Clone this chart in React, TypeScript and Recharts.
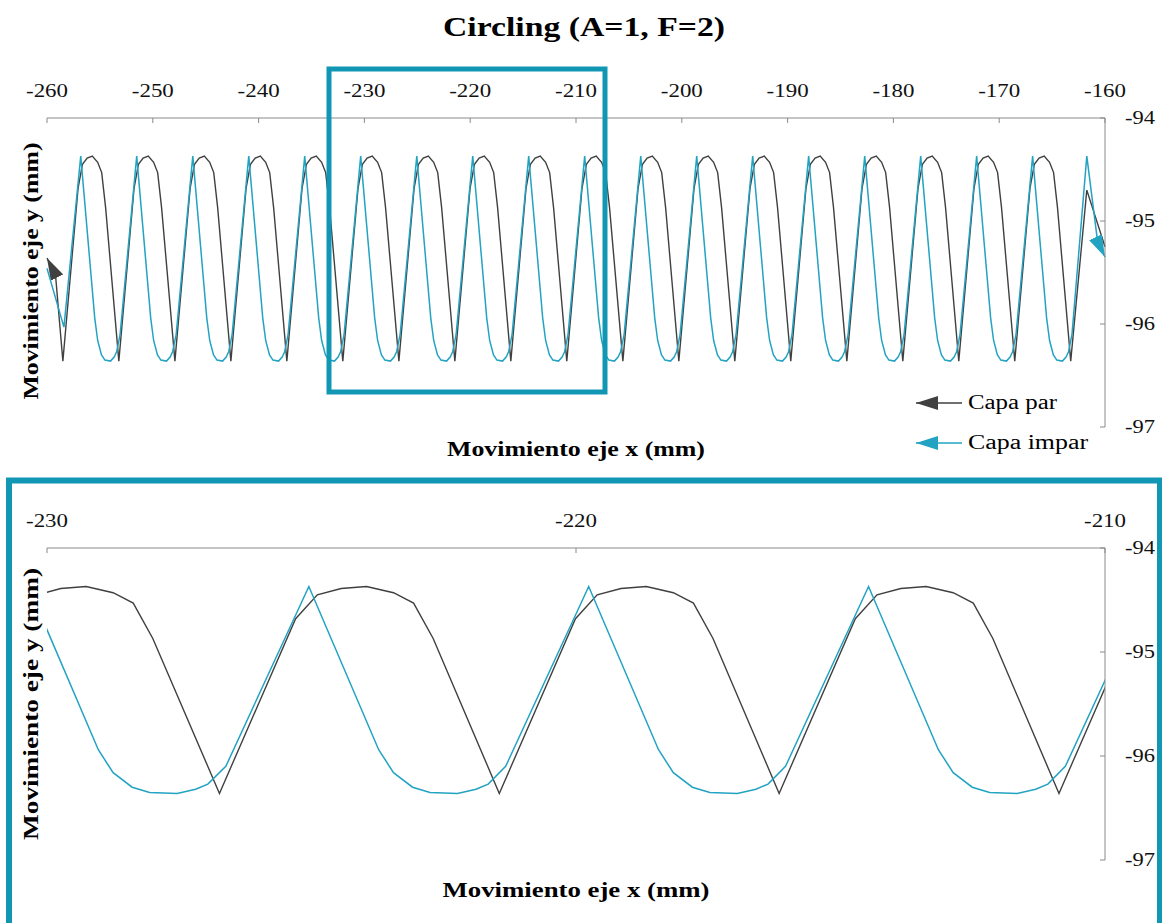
import React from 'react';
import { LineChart, Line, XAxis, YAxis } from 'recharts';

const topTicks = [-260, -250, -240, -230, -220, -210, -200, -190, -180, -170, -160];
const zoomTicks = [-230, -220, -210];
const yTicks = [-97, -96, -95, -94];

// Capa par, read left to right (x, y in mm)
const capaPar: [number, number][] = [
  [-260.0, -95.36], [-259.2, -95.52],
  [-258.5, -96.36], [-257.06, -94.68], [-256.65, -94.45], [-256.2, -94.39], [-255.72, -94.37], [-255.21, -94.43], [-254.83, -94.53], [-254.46, -94.87],
  [-253.21, -96.36], [-251.77, -94.68], [-251.36, -94.45], [-250.91, -94.39], [-250.43, -94.37], [-249.92, -94.43], [-249.54, -94.53], [-249.17, -94.87],
  [-247.91, -96.36], [-246.47, -94.68], [-246.06, -94.45], [-245.61, -94.39], [-245.13, -94.37], [-244.62, -94.43], [-244.24, -94.53], [-243.87, -94.87],
  [-242.62, -96.36], [-241.18, -94.68], [-240.77, -94.45], [-240.32, -94.39], [-239.84, -94.37], [-239.33, -94.43], [-238.95, -94.53], [-238.58, -94.87],
  [-237.33, -96.36], [-235.89, -94.68], [-235.48, -94.45], [-235.03, -94.39], [-234.55, -94.37], [-234.04, -94.43], [-233.66, -94.53], [-233.29, -94.87],
  [-232.04, -96.36], [-230.6, -94.68], [-230.19, -94.45], [-229.74, -94.39], [-229.26, -94.37], [-228.75, -94.43], [-228.37, -94.53], [-228.0, -94.87],
  [-226.74, -96.36], [-225.3, -94.68], [-224.89, -94.45], [-224.44, -94.39], [-223.96, -94.37], [-223.45, -94.43], [-223.07, -94.53], [-222.7, -94.87],
  [-221.45, -96.36], [-220.01, -94.68], [-219.6, -94.45], [-219.15, -94.39], [-218.67, -94.37], [-218.16, -94.43], [-217.78, -94.53], [-217.41, -94.87],
  [-216.16, -96.36], [-214.72, -94.68], [-214.31, -94.45], [-213.86, -94.39], [-213.38, -94.37], [-212.87, -94.43], [-212.49, -94.53], [-212.12, -94.87],
  [-210.87, -96.36], [-209.43, -94.68], [-209.02, -94.45], [-208.57, -94.39], [-208.09, -94.37], [-207.58, -94.43], [-207.2, -94.53], [-206.83, -94.87],
  [-205.57, -96.36], [-204.13, -94.68], [-203.72, -94.45], [-203.27, -94.39], [-202.79, -94.37], [-202.28, -94.43], [-201.9, -94.53], [-201.53, -94.87],
  [-200.28, -96.36], [-198.84, -94.68], [-198.43, -94.45], [-197.98, -94.39], [-197.5, -94.37], [-196.99, -94.43], [-196.61, -94.53], [-196.24, -94.87],
  [-194.99, -96.36], [-193.55, -94.68], [-193.14, -94.45], [-192.69, -94.39], [-192.21, -94.37], [-191.7, -94.43], [-191.32, -94.53], [-190.95, -94.87],
  [-189.7, -96.36], [-188.26, -94.68], [-187.85, -94.45], [-187.4, -94.39], [-186.92, -94.37], [-186.41, -94.43], [-186.03, -94.53], [-185.66, -94.87],
  [-184.4, -96.36], [-182.96, -94.68], [-182.55, -94.45], [-182.1, -94.39], [-181.62, -94.37], [-181.11, -94.43], [-180.73, -94.53], [-180.36, -94.87],
  [-179.11, -96.36], [-177.67, -94.68], [-177.26, -94.45], [-176.81, -94.39], [-176.33, -94.37], [-175.82, -94.43], [-175.44, -94.53], [-175.07, -94.87],
  [-173.82, -96.36], [-172.38, -94.68], [-171.97, -94.45], [-171.52, -94.39], [-171.04, -94.37], [-170.53, -94.43], [-170.15, -94.53], [-169.78, -94.87],
  [-168.53, -96.36], [-167.09, -94.68], [-166.68, -94.45], [-166.23, -94.39], [-165.75, -94.37], [-165.24, -94.43], [-164.86, -94.53], [-164.49, -94.87],
  [-163.24, -96.36], [-161.72, -94.7], [-160.0, -95.25],
];

// Capa impar, listed left to right; the layer is travelled right to left
const capaImpar: [number, number][] = [
  [-260.0, -95.46], [-258.4, -96.03],
  [-256.81, -94.37], [-255.49, -95.94], [-255.21, -96.16], [-254.85, -96.3], [-254.52, -96.35], [-254.0, -96.36], [-253.65, -96.32], [-253.42, -96.27], [-253.09, -96.1],
  [-251.52, -94.37], [-250.2, -95.94], [-249.92, -96.16], [-249.56, -96.3], [-249.23, -96.35], [-248.71, -96.36], [-248.36, -96.32], [-248.13, -96.27], [-247.79, -96.1],
  [-246.22, -94.37], [-244.9, -95.94], [-244.62, -96.16], [-244.26, -96.3], [-243.93, -96.35], [-243.41, -96.36], [-243.06, -96.32], [-242.83, -96.27], [-242.5, -96.1],
  [-240.93, -94.37], [-239.61, -95.94], [-239.33, -96.16], [-238.97, -96.3], [-238.64, -96.35], [-238.12, -96.36], [-237.77, -96.32], [-237.54, -96.27], [-237.21, -96.1],
  [-235.64, -94.37], [-234.32, -95.94], [-234.04, -96.16], [-233.68, -96.3], [-233.35, -96.35], [-232.83, -96.36], [-232.48, -96.32], [-232.25, -96.27], [-231.92, -96.1],
  [-230.35, -94.37], [-229.03, -95.94], [-228.75, -96.16], [-228.39, -96.3], [-228.06, -96.35], [-227.54, -96.36], [-227.19, -96.32], [-226.96, -96.27], [-226.62, -96.1],
  [-225.05, -94.37], [-223.73, -95.94], [-223.45, -96.16], [-223.09, -96.3], [-222.76, -96.35], [-222.24, -96.36], [-221.89, -96.32], [-221.66, -96.27], [-221.33, -96.1],
  [-219.76, -94.37], [-218.44, -95.94], [-218.16, -96.16], [-217.8, -96.3], [-217.47, -96.35], [-216.95, -96.36], [-216.6, -96.32], [-216.37, -96.27], [-216.04, -96.1],
  [-214.47, -94.37], [-213.15, -95.94], [-212.87, -96.16], [-212.51, -96.3], [-212.18, -96.35], [-211.66, -96.36], [-211.31, -96.32], [-211.08, -96.27], [-210.75, -96.1],
  [-209.18, -94.37], [-207.86, -95.94], [-207.58, -96.16], [-207.22, -96.3], [-206.89, -96.35], [-206.37, -96.36], [-206.02, -96.32], [-205.79, -96.27], [-205.45, -96.1],
  [-203.88, -94.37], [-202.56, -95.94], [-202.28, -96.16], [-201.92, -96.3], [-201.59, -96.35], [-201.07, -96.36], [-200.72, -96.32], [-200.49, -96.27], [-200.16, -96.1],
  [-198.59, -94.37], [-197.27, -95.94], [-196.99, -96.16], [-196.63, -96.3], [-196.3, -96.35], [-195.78, -96.36], [-195.43, -96.32], [-195.2, -96.27], [-194.87, -96.1],
  [-193.3, -94.37], [-191.98, -95.94], [-191.7, -96.16], [-191.34, -96.3], [-191.01, -96.35], [-190.49, -96.36], [-190.14, -96.32], [-189.91, -96.27], [-189.58, -96.1],
  [-188.01, -94.37], [-186.69, -95.94], [-186.41, -96.16], [-186.05, -96.3], [-185.72, -96.35], [-185.2, -96.36], [-184.85, -96.32], [-184.62, -96.27], [-184.28, -96.1],
  [-182.71, -94.37], [-181.39, -95.94], [-181.11, -96.16], [-180.75, -96.3], [-180.42, -96.35], [-179.9, -96.36], [-179.55, -96.32], [-179.32, -96.27], [-178.99, -96.1],
  [-177.42, -94.37], [-176.1, -95.94], [-175.82, -96.16], [-175.46, -96.3], [-175.13, -96.35], [-174.61, -96.36], [-174.26, -96.32], [-174.03, -96.27], [-173.7, -96.1],
  [-172.13, -94.37], [-170.81, -95.94], [-170.53, -96.16], [-170.17, -96.3], [-169.84, -96.35], [-169.32, -96.36], [-168.97, -96.32], [-168.74, -96.27], [-168.41, -96.1],
  [-166.84, -94.37], [-165.52, -95.94], [-165.24, -96.16], [-164.88, -96.3], [-164.55, -96.35], [-164.03, -96.36], [-163.68, -96.32], [-163.45, -96.27], [-163.12, -96.1],
  [-161.72, -94.37], [-160.7, -95.2], [-160.0, -95.35],
];

const parData = capaPar.map(([x, y]) => ({ x, y }));
// path order matters for the start arrow
const imparData = [...capaImpar].reverse().map(([x, y]) => ({ x, y }));

const serif = "'Liberation Serif', 'Times New Roman', serif";
const GREY = '#404040';
const CYAN = '#22a3c2';
const BOX = '#1196b4';
const AXIS = '#8a8a8a';

// the original text is rendered wider than Times, so stretch it
const tickWidth = (s: string) => 6 + 12 * (s.length - 1);

const XTick = (props: any) => {
  const { x, y, payload } = props;
  const s = String(payload.value);
  return (
    <text x={x} y={y} textAnchor="middle" fontFamily={serif} fontSize={18.5} fill="#111"
      textLength={tickWidth(s)} lengthAdjust="spacingAndGlyphs">{s}</text>
  );
};

const YTick = (props: any) => {
  const { x, y, payload } = props;
  const s = String(payload.value);
  return (
    <text x={x} y={y} dy="0.35em" textAnchor="start" fontFamily={serif} fontSize={18.5} fill="#111"
      textLength={tickWidth(s)} lengthAdjust="spacingAndGlyphs">{s}</text>
  );
};

const Panel = ({ height, margin, domain, ticks, zoomed }: any) => (
  <LineChart width={1162} height={height} margin={margin}>
    <XAxis type="number" dataKey="x" domain={domain} ticks={ticks} interval={0} orientation="top"
      height={30} allowDataOverflow={zoomed} stroke={AXIS} tickSize={-5} tickMargin={26} tick={XTick} />
    <YAxis type="number" domain={[-97, -94]} ticks={yTicks} interval={0} orientation="right"
      width={57} stroke={AXIS} tickSize={-5} tickMargin={25} tick={YTick} />
    <Line data={parData} dataKey="y" stroke={GREY} strokeWidth={1.4} dot={false}
      isAnimationActive={false} markerStart={zoomed ? undefined : 'url(#arrowPar)'} />
    <Line data={imparData} dataKey="y" stroke={CYAN} strokeWidth={1.5} dot={false}
      isAnimationActive={false} markerStart={zoomed ? undefined : 'url(#arrowImpar)'} />
  </LineChart>
);

const Title = ({ x, y, w, size, bold, children, rotate }: any) => (
  <text x={rotate ? 0 : x} y={rotate ? 0 : y} transform={rotate ? `translate(${x},${y}) rotate(-90)` : undefined}
    textAnchor="middle" fontFamily={serif} fontSize={size} fontWeight={bold ? 'bold' : 'normal'} fill="#000"
    textLength={w} lengthAdjust="spacingAndGlyphs">{children}</text>
);

export default function App() {
  return (
    <div style={{ position: 'absolute', left: 0, top: 0, width: 1162, height: 923, background: '#fff', overflow: 'hidden' }}>
      <div style={{ position: 'absolute', left: 0, top: 0 }}>
        <Panel height={470} margin={{ top: 88, right: 0, bottom: 43, left: 47 }} domain={[-260, -160]} ticks={topTicks} zoomed={false} />
      </div>
      <div style={{ position: 'absolute', left: 0, top: 470 }}>
        <Panel height={453} margin={{ top: 48, right: 0, bottom: 63, left: 47 }} domain={[-230, -210]} ticks={zoomTicks} zoomed />
      </div>
      <svg width={1162} height={923} style={{ position: 'absolute', left: 0, top: 0, pointerEvents: 'none' }}>
        <defs>
          <marker id="arrowPar" markerUnits="userSpaceOnUse" markerWidth={22} markerHeight={14} refX={22} refY={7} orient="auto-start-reverse">
            <path d="M0,0 L22,7 L0,14 Z" fill={GREY} />
          </marker>
          <marker id="arrowImpar" markerUnits="userSpaceOnUse" markerWidth={22} markerHeight={14} refX={22} refY={7} orient="auto-start-reverse">
            <path d="M0,0 L22,7 L0,14 Z" fill={CYAN} />
          </marker>
        </defs>

        <Title x={584} y={36} w={282} size={28} bold>Circling (A=1, F=2)</Title>

        <Title x={576} y={456} w={258} size={21} bold>Movimiento eje x (mm)</Title>
        <Title x={38} y={271} w={257} size={21} bold rotate>Movimiento eje y (mm)</Title>

        <line x1={962} y1={403} x2={916} y2={403} stroke={GREY} strokeWidth={1.5} markerEnd="url(#arrowPar)" />
        <text x={968} y={409} fontFamily={serif} fontSize={20} fill="#000" textLength={89} lengthAdjust="spacingAndGlyphs">Capa par</text>
        <line x1={962} y1={443} x2={916} y2={443} stroke={CYAN} strokeWidth={1.5} markerEnd="url(#arrowImpar)" />
        <text x={968} y={449} fontFamily={serif} fontSize={20} fill="#000" textLength={120} lengthAdjust="spacingAndGlyphs">Capa impar</text>

        <rect x={329} y={69} width={276} height={323} fill="none" stroke={BOX} strokeWidth={5} />
        <rect x={9} y={480.5} width={1151} height={500} fill="none" stroke={BOX} strokeWidth={6} />

        <Title x={576} y={897} w={267} size={21} bold>Movimiento eje x (mm)</Title>
        <Title x={38} y={704} w={272} size={21} bold rotate>Movimiento eje y (mm)</Title>
      </svg>
    </div>
  );
}
